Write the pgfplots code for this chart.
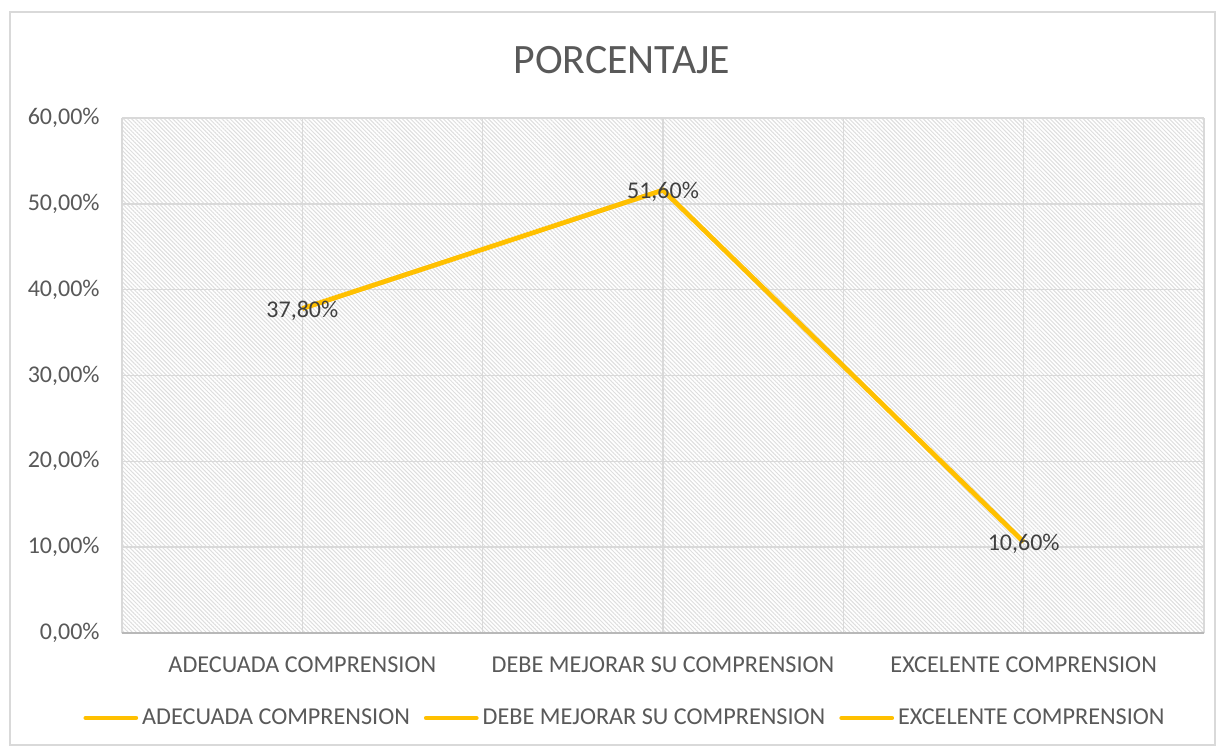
\documentclass[border=0pt]{standalone}
\usepackage{fontspec}
\setmainfont{Carlito}
\usepackage{pgfplots}
\pgfplotsset{compat=1.18}
\usetikzlibrary{patterns.meta}
\definecolor{lineC}{HTML}{FFC000}
\definecolor{gridC}{HTML}{D9D9D9}
\definecolor{txtC}{HTML}{595959}
\definecolor{lblC}{HTML}{404040}
\definecolor{hatchC}{HTML}{DEDEDE}
\begin{document}
\begin{tikzpicture}
\useasboundingbox (-61pt,-58.5pt) rectangle (549.5pt,316.5pt);
\fill[white] (-61pt,-58.5pt) rectangle (549.5pt,316.5pt);
\draw[gridC, line width=0.75pt] (-56pt,-56pt) rectangle (546.5pt,310.5pt);
\begin{axis}[
  at={(0pt,0pt)}, anchor=south west,
  width=541pt, height=257.5pt, scale only axis,
  xmin=-0.5, xmax=2.5, ymin=0, ymax=60,
  xtick={0,1,2},
  xticklabels={ADECUADA COMPRENSION, DEBE MEJORAR SU COMPRENSION, EXCELENTE COMPRENSION},
  minor xtick={-0.5,0.5,1.5,2.5},
  ytick={0,10,...,60},
  yticklabel={\pgfmathprintnumber[fixed,fixed zerofill,precision=2,use comma]{\tick}\%},
  /pgf/number format/assume math mode=true,
  xmajorgrids, xminorgrids, ymajorgrids,
  grid style={gridC, line width=0.75pt},
  minor grid style={gridC, line width=0.75pt},
  major tick length=0pt, minor tick length=0pt,
  axis line style={draw=none},
  axis background/.style={pattern={Lines[angle=-45,distance=1.45pt,line width=0.5pt]}, pattern color=hatchC},
  xticklabel style={anchor=center, yshift=-16pt, inner sep=0pt, font=\fontsize{12.1}{14}\selectfont, text=txtC},
  yticklabel style={anchor=east, xshift=-11pt, inner sep=0pt, font=\fontsize{12}{14}\selectfont, text=txtC},
  legend columns=3,
  legend style={at={(0.4658,-0.165)}, anchor=center, draw=none, fill=none,
    font=\fontsize{12.1}{14}\selectfont, text=txtC,
    /tikz/every odd column/.append style={column sep=0pt},
    /tikz/every even column/.append style={column sep=5pt}},
  legend image code/.code={\draw[#1, line cap=round] (0pt,0pt) -- (25pt,0pt);},
  after end axis/.code={\draw[gridC!85!black, line width=0.9pt] (rel axis cs:0,0) -- (rel axis cs:1,0);},
]
\addplot[lineC, line width=2.4pt, mark=none,
  point meta=explicit symbolic,
  nodes near coords,
  every node near coord/.append style={anchor=center, yshift=-1pt, inner sep=0pt, font=\fontsize{12}{14}\selectfont, text=lblC}]
  coordinates {(0,37.8) [37,80\%] (1,51.6) [51,60\%] (2,10.6) [10,60\%]};
\addlegendentry{ADECUADA COMPRENSION}
\addlegendimage{lineC, line width=2.4pt}
\addlegendentry{DEBE MEJORAR SU COMPRENSION}
\addlegendimage{lineC, line width=2.4pt}
\addlegendentry{EXCELENTE COMPRENSION}
\end{axis}
\node[font=\fontsize{20.9}{25}\selectfont, text=txtC] at (250pt,286.5pt) {PORCENTAJE};
\end{tikzpicture}
\end{document}
